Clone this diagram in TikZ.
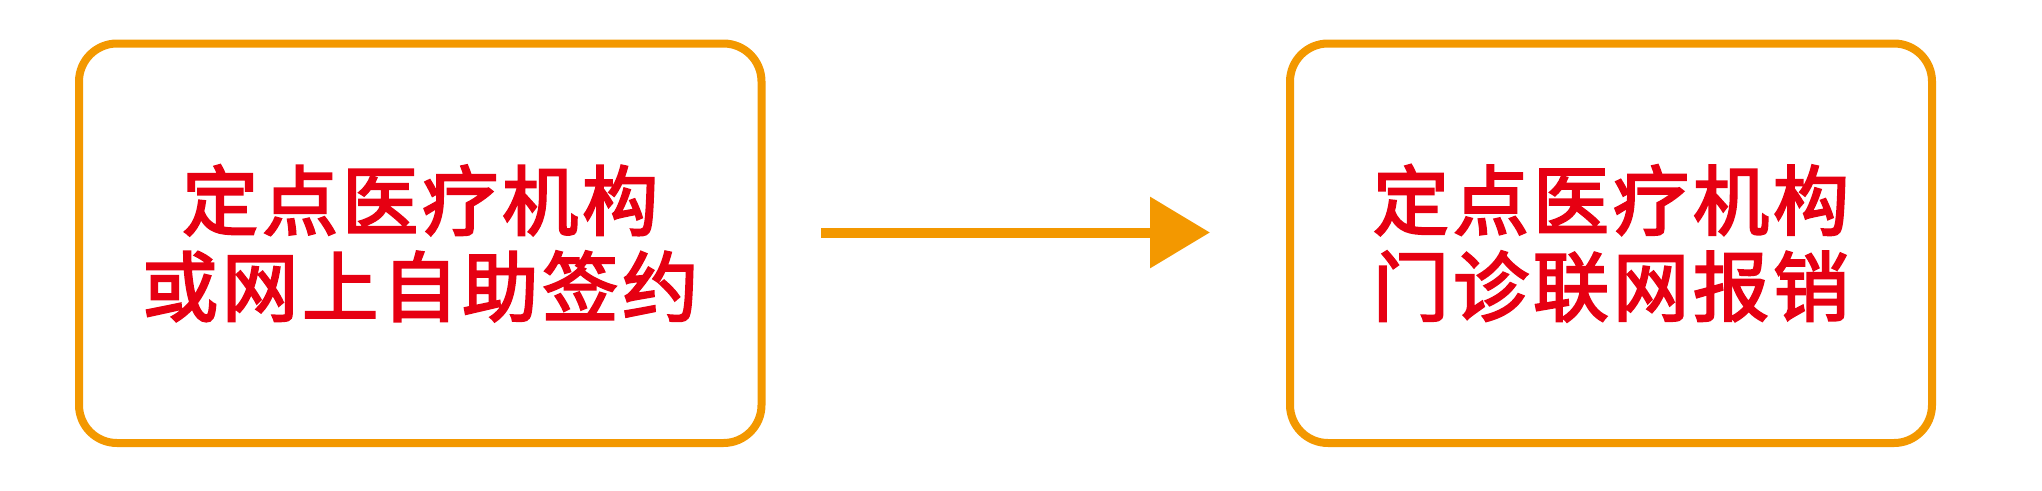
\documentclass[tikz,border=0pt]{standalone}
\usepackage{fontspec}
\newfontfamily\cjk[LetterSpace=5.3, FakeBold=3]{Noto Sans CJK SC}
\usetikzlibrary{arrows.meta}
\definecolor{boxorange}{RGB}{243,152,0}
\definecolor{textred}{RGB}{230,0,18}
\tikzset{
  stagebox/.style={draw=boxorange, line width=8pt, rounded corners=38pt,
    minimum height=399.5pt, inner sep=0pt, align=center, text=textred,
    font=\cjk\fontsize{76}{86}\selectfont},
  flowarrow/.style={draw=boxorange, line width=10pt,
    -{Triangle[length=60pt,width=69pt]}}
}
\begin{document}
\begin{tikzpicture}[x=1pt,y=-1pt]
\useasboundingbox (0,0) rectangle (2042,490);
\node[stagebox, minimum width=682.5pt] (left) at (420.25,243.25) {定点医疗机构\\或网上自助签约};
\node[stagebox, minimum width=642pt] (right) at (1611,243.25) {定点医疗机构\\门诊联网报销};
\coordinate (arrowstart) at (821,232.5);
\coordinate (arrowend) at (1210,232.5);
\draw[flowarrow] (arrowstart) -- (arrowend);
\end{tikzpicture}
\end{document}
